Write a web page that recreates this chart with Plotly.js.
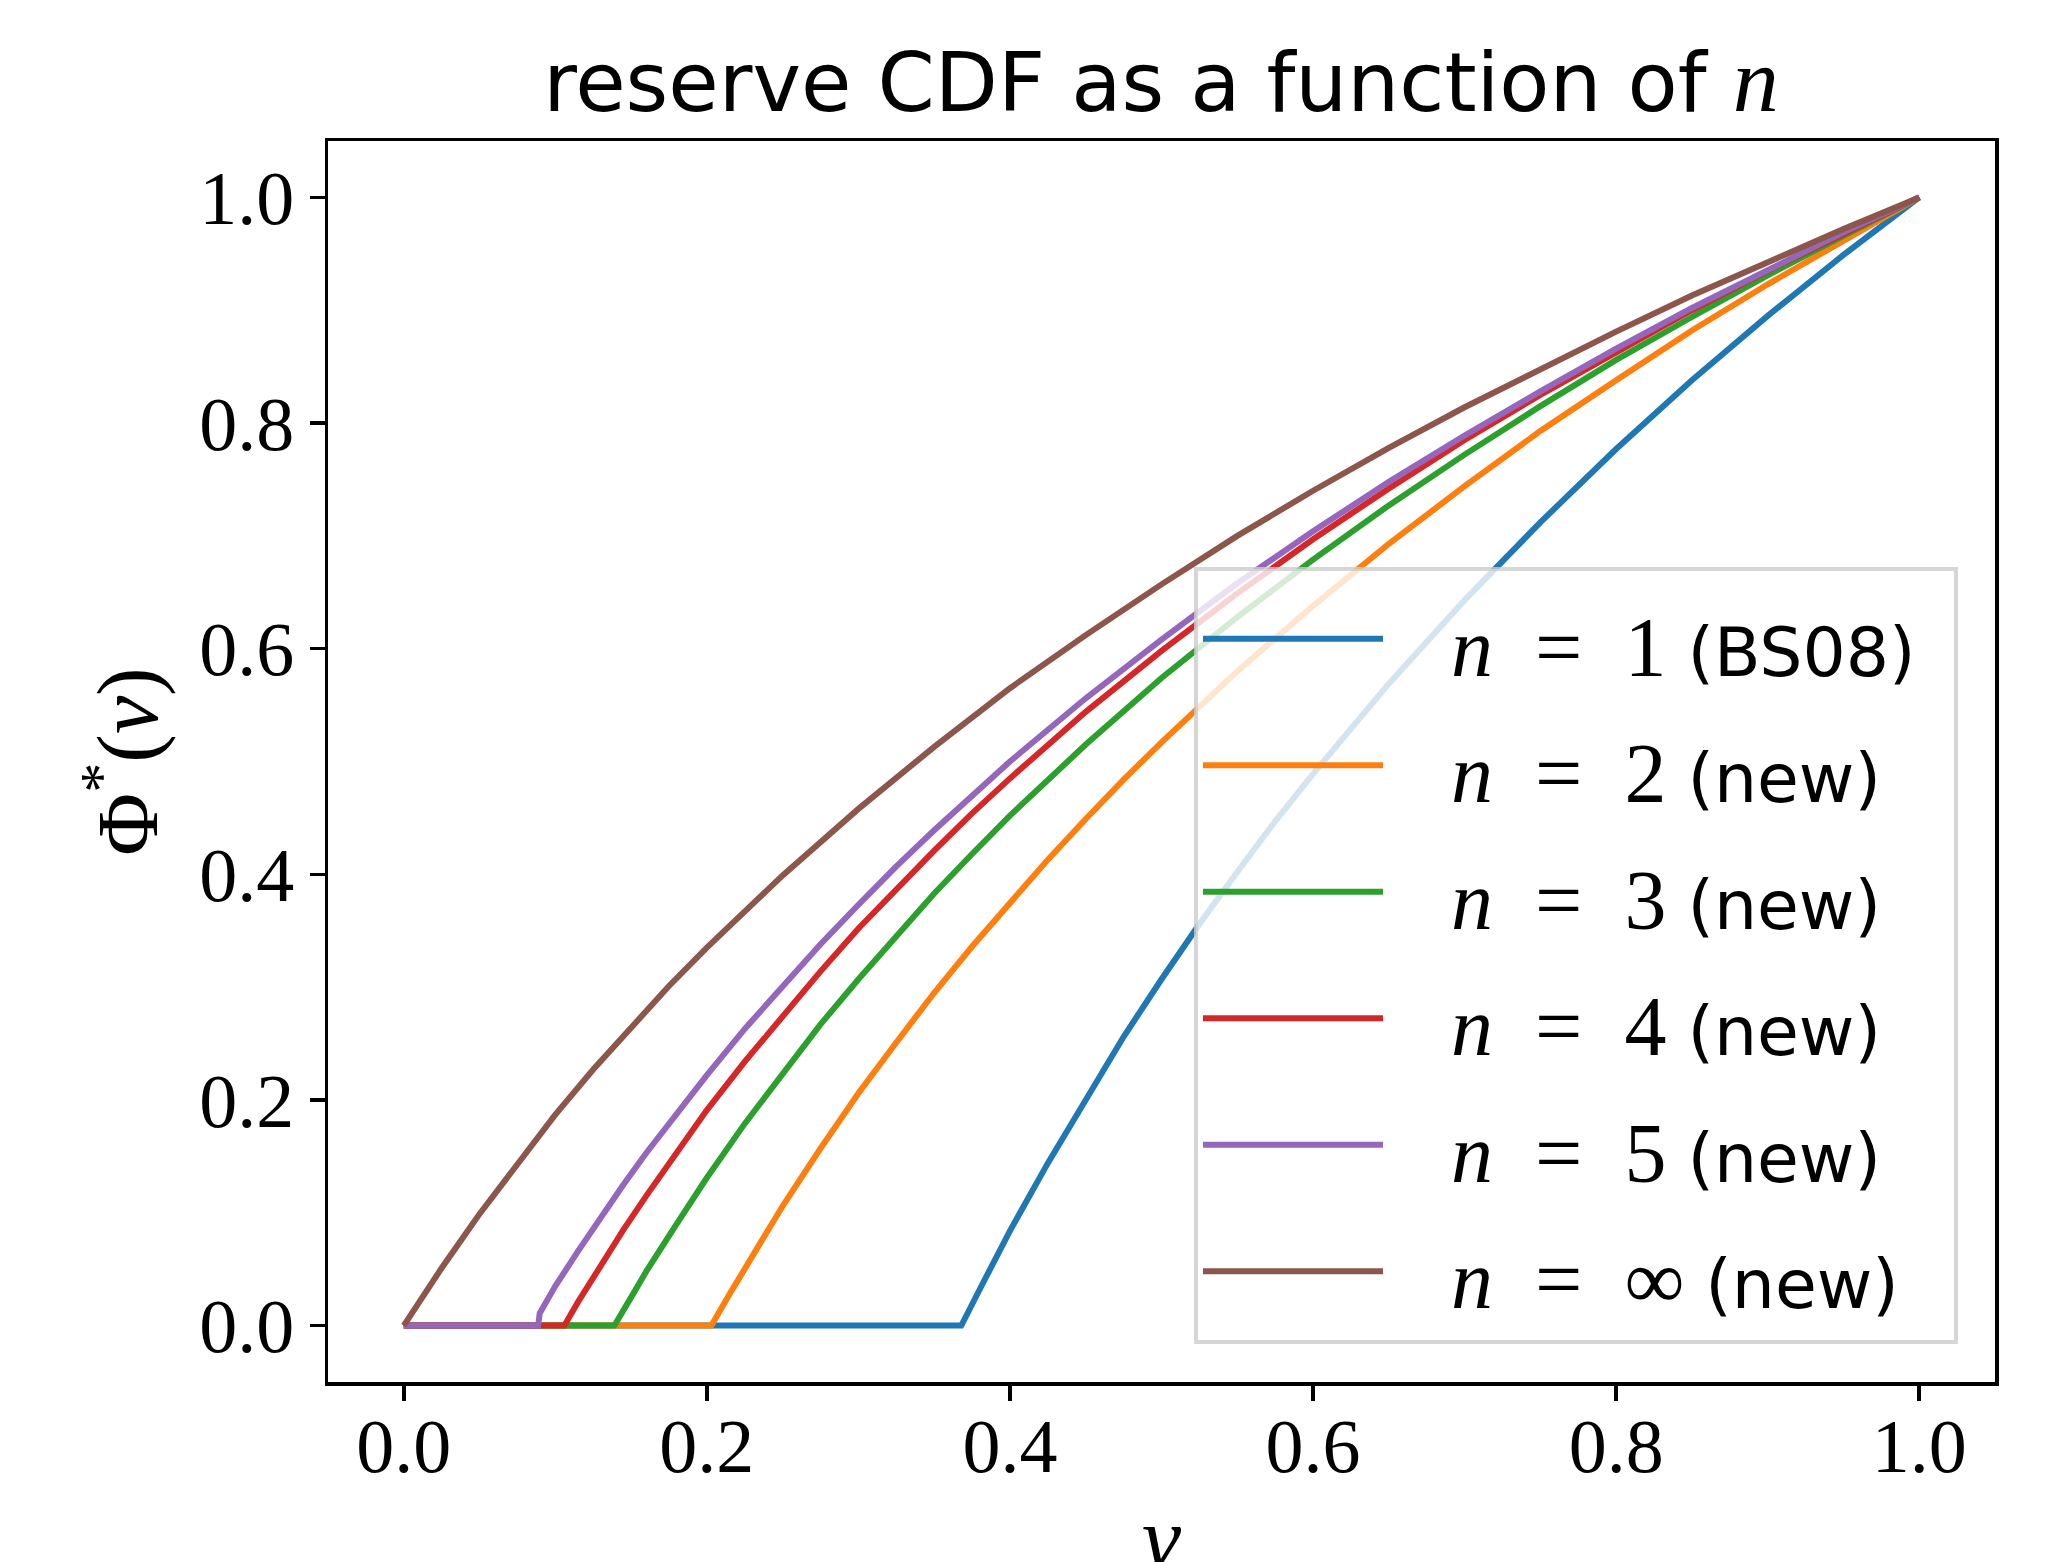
<!DOCTYPE html>
<html>
<head>
<meta charset="utf-8">
<script src="https://cdn.plot.ly/plotly-3.0.1.min.js"></script>
<style>html,body{margin:0;padding:0;background:#fff;}#chart{width:2065px;height:1562px;}</style>
</head>
<body>
<div id="chart"></div>
<script>
// v values and reserve CDF values
const vN1 = [0, 0.3679, 0.38, 0.39, 0.4, 0.425, 0.45, 0.475, 0.5, 0.525, 0.55, 0.575, 0.6, 0.65, 0.7, 0.75, 0.8, 0.85, 0.9, 0.95, 1.0];
const phiN1 = [0, 0, 0.032, 0.058, 0.084, 0.144, 0.201, 0.256, 0.307, 0.356, 0.402, 0.447, 0.489, 0.569, 0.643, 0.712, 0.777, 0.838, 0.895, 0.949, 1.0];

const vN2 = [0, 0.203, 0.215, 0.225, 0.25, 0.275, 0.3, 0.325, 0.35, 0.375, 0.4, 0.425, 0.45, 0.475, 0.5, 0.55, 0.6, 0.65, 0.7, 0.75, 0.8, 0.85, 0.9, 0.95, 1.0];
const phiN2 = [0, 0, 0.028, 0.051, 0.106, 0.157, 0.206, 0.251, 0.295, 0.336, 0.375, 0.413, 0.449, 0.484, 0.517, 0.580, 0.638, 0.693, 0.744, 0.793, 0.838, 0.882, 0.923, 0.962, 1.0];

const vN3 = [0, 0.139, 0.15, 0.16, 0.18, 0.2, 0.225, 0.25, 0.275, 0.3, 0.325, 0.35, 0.375, 0.4, 0.45, 0.5, 0.55, 0.6, 0.65, 0.7, 0.75, 0.8, 0.85, 0.9, 0.95, 1.0];
const phiN3 = [0, 0, 0.025, 0.048, 0.090, 0.131, 0.179, 0.224, 0.267, 0.307, 0.346, 0.383, 0.418, 0.452, 0.515, 0.574, 0.628, 0.679, 0.727, 0.772, 0.815, 0.856, 0.894, 0.931, 0.966, 1.0];

const vN4 = [0, 0.106, 0.115, 0.13, 0.145, 0.16, 0.18, 0.2, 0.225, 0.25, 0.275, 0.3, 0.325, 0.35, 0.375, 0.4, 0.45, 0.5, 0.55, 0.6, 0.65, 0.7, 0.75, 0.8, 0.85, 0.9, 0.95, 1.0];
const phiN4 = [0, 0, 0.021, 0.054, 0.085, 0.115, 0.154, 0.191, 0.234, 0.275, 0.314, 0.352, 0.387, 0.421, 0.454, 0.485, 0.544, 0.598, 0.649, 0.697, 0.742, 0.785, 0.825, 0.863, 0.900, 0.935, 0.968, 1.0];

const vN5 = [0, 0.0887, 0.0897, 0.1, 0.115, 0.13, 0.145, 0.16, 0.18, 0.2, 0.225, 0.25, 0.275, 0.3, 0.325, 0.35, 0.4, 0.45, 0.5, 0.55, 0.6, 0.65, 0.7, 0.75, 0.8, 0.85, 0.9, 0.95, 1.0];
const phiN5 = [0, 0, 0.011, 0.035, 0.066, 0.096, 0.125, 0.153, 0.188, 0.222, 0.263, 0.301, 0.338, 0.373, 0.407, 0.439, 0.500, 0.556, 0.608, 0.658, 0.704, 0.748, 0.789, 0.828, 0.866, 0.902, 0.936, 0.969, 1.0];

const vInf = [0, 0.0125, 0.025, 0.0375, 0.05, 0.075, 0.1, 0.125, 0.15, 0.175, 0.2, 0.25, 0.3, 0.35, 0.4, 0.45, 0.5, 0.55, 0.6, 0.65, 0.7, 0.75, 0.8, 0.85, 0.9, 0.95, 1.0];
const phiInf = [0, 0.026, 0.051, 0.075, 0.099, 0.143, 0.187, 0.227, 0.265, 0.301, 0.335, 0.399, 0.458, 0.513, 0.565, 0.612, 0.657, 0.700, 0.740, 0.778, 0.814, 0.848, 0.881, 0.913, 0.943, 0.972, 1.0];

const nLabels = ['1', '2', '3', '4', '5', '∞'];
const notes = ['(BS08)', '(new)', '(new)', '(new)', '(new)', '(new)'];
const xTicks = [0.0, 0.2, 0.4, 0.6, 0.8, 1.0];
const yTicks = [0.0, 0.2, 0.4, 0.6, 0.8, 1.0];

const colors = ['#1f77b4', '#ff7f0e', '#2ca02c', '#d62728', '#9467bd', '#8c564b'];
const xs = [vN1, vN2, vN3, vN4, vN5, vInf];
const ys = [phiN1, phiN2, phiN3, phiN4, phiN5, phiInf];

const SERIF = 'Liberation Serif, DejaVu Serif, serif';
const SANS = 'DejaVu Sans, sans-serif';

function label(i) {
  return '<span style="font-family:Liberation Serif;font-size:84px">&nbsp;&nbsp;&nbsp;<i>n</i>&nbsp;&nbsp;=&nbsp;&nbsp;' + nLabels[i] + '&nbsp;</span>' +
         '<span style="font-family:DejaVu Sans;font-size:68px">' + notes[i] + '&nbsp;\u2006</span>';
}

const traces = xs.map((x, i) => ({
  type: 'scatter',
  mode: 'lines',
  x: x,
  y: ys[i],
  name: label(i),
  line: {color: colors[i], width: 6},
  hoverinfo: 'skip'
}));

const layout = {
  width: 2065,
  height: 1562,
  margin: {l: 328, r: 70, t: 141, b: 180},
  paper_bgcolor: '#ffffff',
  plot_bgcolor: '#ffffff',
  title: {
    text: 'reserve CDF as a function of <span style="font-family:Liberation Serif;font-size:92px"><i>n</i></span>',
    font: {family: SANS, size: 82, color: '#000'},
    x: 0.5622, xanchor: 'center',
    y: 0.947, yanchor: 'middle'
  },
  xaxis: {
    range: [-0.05, 1.05],
    tickvals: xTicks,
    ticktext: xTicks.map(v => v.toFixed(1)),
    ticks: 'outside', ticklen: 15, tickwidth: 3.5, tickcolor: '#000',
    ticklabelstandoff: -20,
    showline: true, linecolor: '#000', linewidth: 3.5, mirror: true,
    showgrid: false, zeroline: false,
    tickfont: {family: SERIF, size: 76, color: '#000'}
  },
  yaxis: {
    range: [-0.05, 1.05],
    tickvals: yTicks,
    ticktext: yTicks.map(v => v.toFixed(1)),
    ticks: 'outside', ticklen: 15, tickwidth: 3.5, tickcolor: '#000',
    showline: true, linecolor: '#000', linewidth: 3.5, mirror: true,
    showgrid: false, zeroline: false,
    tickfont: {family: SERIF, size: 76, color: '#000'},
    title: {text: 'Φ<sup>*</sup>(<i>v</i>)', font: {family: SERIF, size: 86, color: '#000'}, standoff: 14}
  },
  annotations: [{
    text: '<i>v</i>',
    xref: 'paper', yref: 'paper',
    x: 0.5, xanchor: 'center',
    y: -0.1265, yanchor: 'middle',
    showarrow: false,
    font: {family: SERIF, size: 88, color: '#000'}
  }],
  legend: {
    x: 0.5195, xanchor: 'left',
    y: 0.031, yanchor: 'bottom',
    bgcolor: 'rgba(255,255,255,0.8)',
    bordercolor: 'rgba(204,204,204,0.8)',
    borderwidth: 4,
    font: {family: SERIF, size: 95, color: '#000'},
    itemwidth: 180,
    traceorder: 'normal'
  },
  showlegend: true
};

Plotly.newPlot('chart', traces, layout, {displayModeBar: false, staticPlot: true});
</script>
</body>
</html>
